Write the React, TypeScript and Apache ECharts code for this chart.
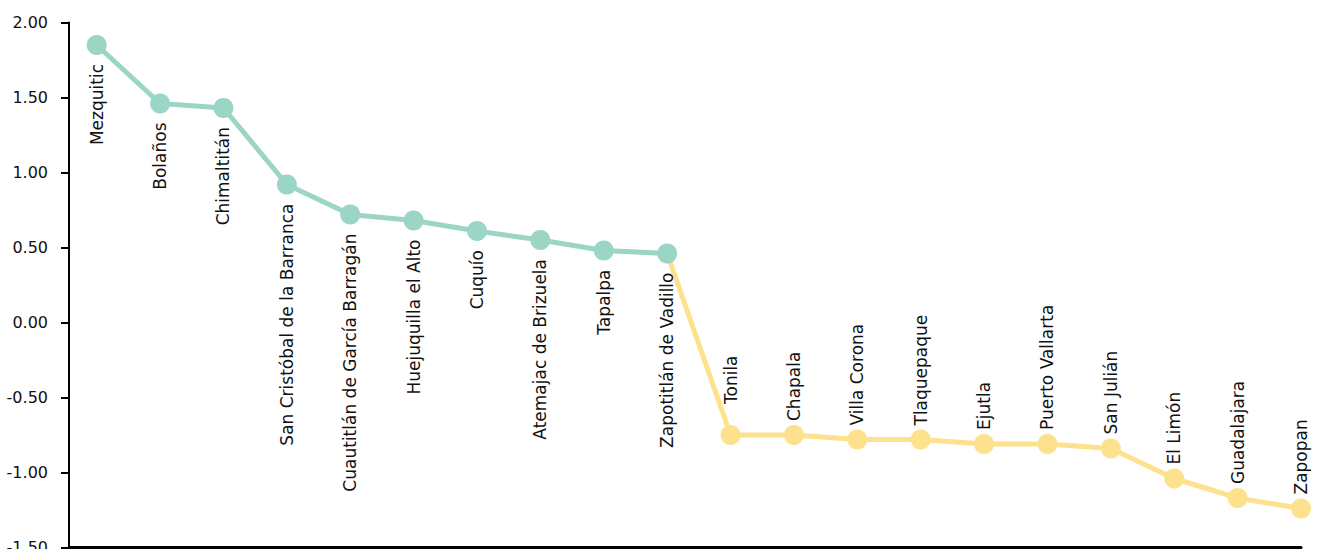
import React, { useEffect, useRef } from "react";
import * as echarts from "echarts";

const highNames = [
  "Mezquitic",
  "Bolaños",
  "Chimaltitán",
  "San Cristóbal de la Barranca",
  "Cuautitlán de García Barragán",
  "Huejuquilla el Alto",
  "Cuquío",
  "Atemajac de Brizuela",
  "Tapalpa",
  "Zapotitlán de Vadillo",
];
const highValues = [1.85, 1.46, 1.43, 0.92, 0.72, 0.68, 0.61, 0.55, 0.48, 0.46];

const lowNames = [
  "Tonila",
  "Chapala",
  "Villa Corona",
  "Tlaquepaque",
  "Ejutla",
  "Puerto Vallarta",
  "San Julián",
  "El Limón",
  "Guadalajara",
  "Zapopan",
];
const lowValues = [-0.75, -0.75, -0.78, -0.78, -0.81, -0.81, -0.84, -1.04, -1.17, -1.24];

const yTicks = [-1.5, -1.0, -0.5, 0, 0.5, 1.0, 1.5, 2.0];

const TEAL = "#9bd5c6";
const YELLOW = "#fde18d";
const FONT = "DejaVu Sans";

export default function App() {
  const ref = useRef<HTMLDivElement>(null);
  useEffect(() => {
    if (!ref.current) return;
    const chart = echarts.init(ref.current, undefined, { renderer: "svg" });

    const highData = highNames.map((n, i) => ({
      name: n,
      value: [i, highValues[i]],
    }));
    const n0 = highNames.length - 1;
    const lowData: any[] = [
      {
        name: highNames[n0],
        value: [n0, highValues[n0]],
        symbolSize: 0,
        label: { show: false },
      },
    ].concat(
      lowNames.map((n, i) => ({
        name: n,
        value: [n0 + 1 + i, lowValues[i]],
        ...(i === 0 ? { label: { distance: 21 } } : {}),
      }))
    );

    chart.setOption({
      animation: false,
      grid: {
        left: 69,
        right: 22,
        top: 22.5,
        bottom: 1.5,
        containLabel: false,
        outerBoundsMode: "none",
      },
      xAxis: {
        type: "value",
        min: -0.437,
        max: 19,
        axisLine: { show: true, onZero: false, lineStyle: { color: "#000", width: 3 } },
        axisTick: { show: false },
        axisLabel: { show: false },
        splitLine: { show: false },
      },
      yAxis: {
        type: "value",
        min: yTicks[0],
        max: yTicks[yTicks.length - 1],
        interval: 0.5,
        axisLine: { show: true, onZero: false, lineStyle: { color: "#000", width: 2 } },
        axisTick: { show: true, length: 8, lineStyle: { color: "#000", width: 2 } },
        axisLabel: {
          margin: 21,
          color: "#111",
          fontFamily: FONT,
          fontSize: 16,
          formatter: (v: number) => v.toFixed(2),
        },
        splitLine: { show: false },
      },
      series: [
        {
          type: "line",
          data: lowData,
          symbol: "circle",
          symbolSize: 20,
          clip: false,
          z: 2,
          lineStyle: { color: YELLOW, width: 5 },
          itemStyle: { color: YELLOW },
          label: {
            show: true,
            formatter: "{b}",
            position: "top",
            distance: 4,
            rotate: 90,
            align: "left",
            verticalAlign: "middle",
            color: "#111",
            fontFamily: FONT,
            fontSize: 17,
          },
        },
        {
          type: "line",
          data: highData,
          symbol: "circle",
          symbolSize: 20,
          clip: false,
          z: 3,
          lineStyle: { color: TEAL, width: 5 },
          itemStyle: { color: TEAL },
          label: {
            show: true,
            formatter: "{b}",
            position: "bottom",
            distance: 9,
            rotate: 90,
            align: "right",
            verticalAlign: "middle",
            color: "#111",
            fontFamily: FONT,
            fontSize: 17,
          },
        },
      ],
    });
    return () => chart.dispose();
  }, []);
  return (
    <div
      ref={ref}
      style={{ position: "absolute", left: 0, top: 0, width: 1323, height: 549 }}
    />
  );
}
